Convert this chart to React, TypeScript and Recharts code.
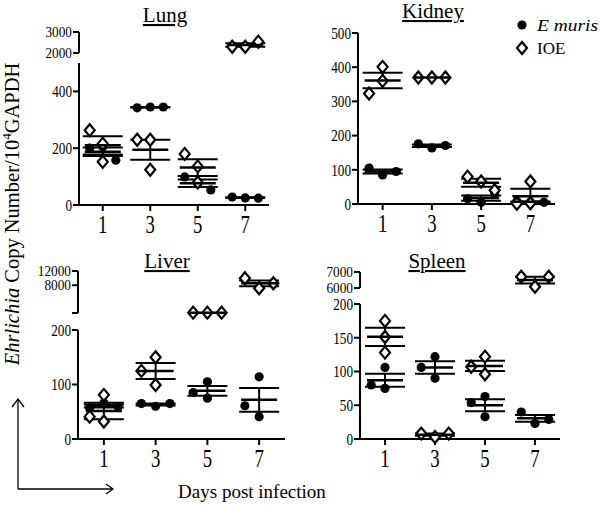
import React from "react";
import { ScatterChart, Scatter, XAxis, YAxis, ErrorBar } from "recharts";

// days post infection (x categories)
const days = [1, 3, 5, 7];

// Ehrlichia copies / 10^4 GAPDH, three mice per day; filled = E muris, open = IOE
const lungEmuris = [[205, 200, 158], [345, 342, 345], [77, 99, 53], [25, 28, 24]];
const lungIOE = [[216, 263, 152], [230, 230, 124], [136, 180, 79], [2300, 2300, 2540]];
const kidneyEmuris = [[85, 105, 95], [164, 176, 171], [5, 15, 32], [6, 8, 5]];
const kidneyIOE = [[401, 360, 323], [370, 370, 370], [66, 80, 40], [66, 2, 1]];
const liverEmuris = [[66, 57, 59], [60, 65, 65], [105, 75, 85], [114, 41, 61]];
const liverIOE = [[32, 81, 41], [150, 125, 99], [300, 300, 300], [7140, 9950, 8550]];
const spleenEmuris = [[106, 75, 80], [122, 106, 90], [63, 33, 54], [23, 40, 29]];
const spleenIOE = [[175, 128, 151], [3, 8, 8], [122, 96, 107], [6080, 6700, 6700]];

// y ticks (lower part / part above the axis break)
const lungTicks = [0, 200, 400];
const lungBreakTicks = [2000, 3000];
const kidneyTicks = [0, 100, 200, 300, 400, 500];
const liverTicks = [0, 100, 200];
const liverBreakTicks = [200, 8000, 12000];
const liverBreakLabels = ["", "8000", "12000"];
const spleenTicks = [0, 50, 100, 150, 200];
const spleenBreakTicks = [6000, 7000];

const FONT = "'Liberation Serif', 'Times New Roman', serif";
const axisStyle = { stroke: "#000", strokeWidth: 2 };
const JIT = 0.55;
const GAP = 14;

type Seg = { top: number; bottom: number; domain: [number, number]; ticks: number[]; labels?: string[]; small?: boolean };
type Panel = {
  title: string; tx: number; ty: number; left: number; right: number;
  lower: Seg; upper?: Seg; emuris: number[][]; ioe: number[][];
};

const panels: Panel[] = [
  { title: "Lung", tx: 165, ty: 22, left: 79, right: 269,
    lower: { top: 63, bottom: 205, domain: [0, 500], ticks: lungTicks },
    upper: { top: 32, bottom: 53, domain: [2000, 3000], ticks: lungBreakTicks, small: true },
    emuris: lungEmuris, ioe: lungIOE },
  { title: "Kidney", tx: 433, ty: 18, left: 358, right: 555,
    lower: { top: 33, bottom: 204, domain: [0, 500], ticks: kidneyTicks },
    emuris: kidneyEmuris, ioe: kidneyIOE },
  { title: "Liver", tx: 167, ty: 268, left: 78, right: 285,
    lower: { top: 330, bottom: 439, domain: [0, 200], ticks: liverTicks },
    upper: { top: 271, bottom: 313, domain: [200, 12000], ticks: liverBreakTicks, labels: liverBreakLabels, small: true },
    emuris: liverEmuris, ioe: liverIOE },
  { title: "Spleen", tx: 437, ty: 268, left: 360, right: 560,
    lower: { top: 304, bottom: 439, domain: [0, 200], ticks: spleenTicks },
    upper: { top: 272, bottom: 288, domain: [6000, 7000], ticks: spleenBreakTicks, small: true },
    emuris: spleenEmuris, ioe: spleenIOE },
];

const mean = (a: number[]) => a.reduce((s, v) => s + v, 0) / a.length;
const sem = (a: number[]) => {
  const m = mean(a);
  const v = a.reduce((s, x) => s + (x - m) ** 2, 0) / (a.length - 1);
  return Math.sqrt(v / a.length);
};

const segOf = (p: Panel, v: number) => (p.upper && v > p.lower.domain[1] ? p.upper : p.lower);
const toPx = (s: Seg, v: number) =>
  s.top + ((s.domain[1] - v) / (s.domain[1] - s.domain[0])) * (s.bottom - s.top);

// simple column scatter: move points sideways when they would overlap
function spread(p: Panel, series: number[][]) {
  const out: { x: number; y: number; seg: Seg }[] = [];
  series.forEach((vals, i) => {
    const placed: { o: number; px: number }[] = [];
    vals.forEach((v) => {
      const seg = segOf(p, v);
      const px = toPx(seg, v);
      const o = [0, -JIT, JIT, -2 * JIT, 2 * JIT].find(
        (c) => !placed.some((q) => q.o === c && Math.abs(q.px - px) < GAP)
      ) ?? 0;
      placed.push({ o, px });
      out.push({ x: days[i] + o, y: v, seg });
    });
  });
  return out;
}

const stats = (p: Panel, series: number[][]) =>
  series.map((vals, i) => {
    const m = mean(vals);
    return { x: days[i], y: m, sem: sem(vals), seg: segOf(p, m) };
  });

const Dot = (props: any) => <circle cx={props.cx} cy={props.cy} r={4.6} fill="#000" />;
const Diamond = (props: any) => {
  const { cx, cy } = props;
  return (
    <path d={`M${cx},${cy - 6} L${cx + 5},${cy} L${cx},${cy + 6} L${cx - 5},${cy} Z`}
      fill="#fff" stroke="#000" strokeWidth={2.2} />
  );
};
const MeanLine = (props: any) => (
  <line x1={props.cx - 18} x2={props.cx + 18} y1={props.cy} y2={props.cy} stroke="#000" strokeWidth={2.5} />
);

const XTick = (props: any) => (
  <text transform={`translate(${props.x},${props.y + 20}) scale(0.75,1)`} textAnchor="middle"
    fontSize={25} style={{ fontFamily: FONT }} fill="#000">
    {props.payload.value}
  </text>
);

const makeYTick = (seg: Seg) => (props: any) => {
  const i = seg.ticks.indexOf(props.payload.value);
  const label = seg.labels ? seg.labels[i] : String(props.payload.value);
  const fs = seg.small ? 14 : 16.5;
  const sx = seg.small ? 0.95 : 0.8;
  return (
    <text transform={`translate(${props.x},${props.y}) scale(${sx},1)`} textAnchor="end" dy="0.35em"
      fontSize={fs} style={{ fontFamily: FONT }} fill="#000">
      {label}
    </text>
  );
};

function Segment({ panel, seg, showX }: { panel: Panel; seg: Seg; showX: boolean }) {
  const yW = 60;
  const mTop = 10;
  const mRight = 12;
  const xH = showX ? 36 : 0;
  const mBot = showX ? 0 : 10;
  const w = panel.right - panel.left + yW + mRight;
  const h = seg.bottom - seg.top + mTop + mBot + xH;
  const dots = spread(panel, panel.emuris).filter((d) => d.seg === seg);
  const diamonds = spread(panel, panel.ioe).filter((d) => d.seg === seg);
  const means = [...stats(panel, panel.emuris), ...stats(panel, panel.ioe)].filter((d) => d.seg === seg);
  return (
    <div style={{ position: "absolute", left: panel.left - yW, top: seg.top - mTop }}>
      <ScatterChart width={w} height={h} margin={{ top: mTop, right: mRight, bottom: mBot, left: 0 }}>
        <XAxis type="number" dataKey="x" domain={[0, 8]} ticks={days} hide={!showX} height={xH}
          tickSize={6} tickMargin={2} axisLine={axisStyle} tickLine={axisStyle} tick={XTick} />
        <YAxis type="number" dataKey="y" domain={seg.domain} ticks={seg.ticks} width={yW} interval={0}
          tickSize={6} tickMargin={1} axisLine={axisStyle} tickLine={axisStyle} tick={makeYTick(seg)} />
        <Scatter data={dots} shape={Dot} isAnimationActive={false} />
        <Scatter data={diamonds} shape={Diamond} isAnimationActive={false} />
        <Scatter data={means} shape={MeanLine} isAnimationActive={false}>
          <ErrorBar dataKey="sem" direction="y" width={20} stroke="#000" strokeWidth={2} isAnimationActive={false} />
        </Scatter>
      </ScatterChart>
    </div>
  );
}

export default function App() {
  return (
    <div style={{ position: "absolute", left: 0, top: 0, width: 600, height: 505, background: "#fff", fontFamily: FONT }}>
      {panels.map((p) => (
        <React.Fragment key={p.title}>
          <Segment panel={p} seg={p.lower} showX={true} />
          {p.upper && <Segment panel={p} seg={p.upper} showX={false} />}
        </React.Fragment>
      ))}
      <svg width={600} height={505} style={{ position: "absolute", left: 0, top: 0, pointerEvents: "none", fontFamily: FONT }}>
        {panels.map((p) => (
          <text key={p.title} x={p.tx} y={p.ty} textAnchor="middle" fontSize={21} fontWeight="normal"
            textDecoration="underline" fill="#000">
            {p.title}
          </text>
        ))}
        <circle cx={522} cy={25} r={4.6} fill="#000" />
        <text x={537} y={31} fontSize={17} fontStyle="italic" fill="#000" textLength={61} lengthAdjust="spacingAndGlyphs">E muris</text>
        <path d="M522,42 L527,48 L522,54 L517,48 Z" fill="#fff" stroke="#000" strokeWidth={2.2} />
        <text x={537} y={54} fontSize={17} fill="#000">IOE</text>
        <text transform="translate(19,214) rotate(-90)" textAnchor="middle" fontSize={20.5} fill="#000">
          <tspan fontStyle="italic">Ehrlichia</tspan>
          <tspan> Copy Number/10</tspan>
          <tspan fontSize={13} dy={-8}>4</tspan>
          <tspan dy={8}>GAPDH</tspan>
        </text>
        <text x={252} y={498} textAnchor="middle" fontSize={19} fill="#000">Days post infection</text>
        <g stroke="#000" strokeWidth={1.3} fill="none">
          <polyline points="18,489 18,399" />
          <polyline points="12,407 18,399 24,407" />
          <polyline points="18,489 113,489" />
          <polyline points="106,484 113,489 106,494" />
        </g>
      </svg>
    </div>
  );
}
